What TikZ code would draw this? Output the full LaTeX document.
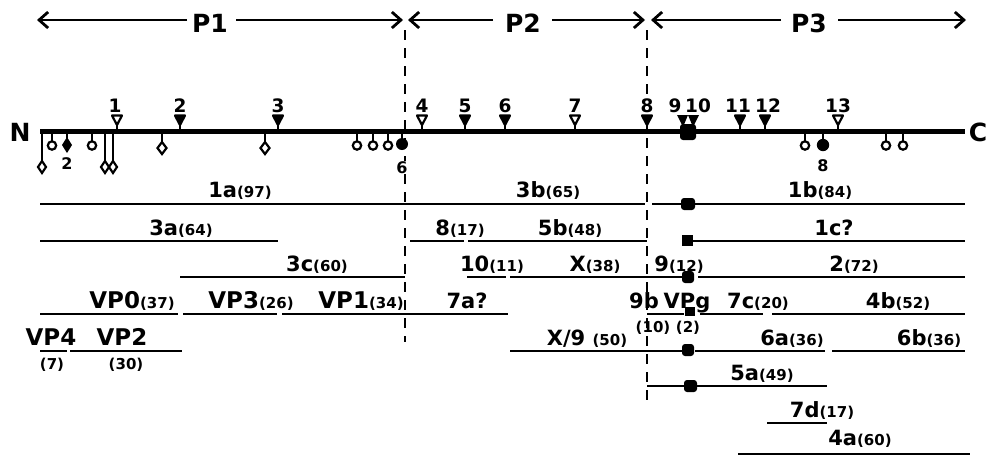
\documentclass[tikz,border=0pt]{standalone}
\usepackage{fontspec}
\setsansfont{DejaVu Sans}
\usetikzlibrary{arrows.meta}
\newcommand{\pr}[1]{{\fontsize{15}{15}\selectfont(#1)}}
\begin{document}
\begin{tikzpicture}[x=1pt,y=-1pt,
  lab/.style={font=\sffamily\bfseries\fontsize{21}{21}\selectfont,inner sep=0pt,anchor=base},
  vplab/.style={font=\sffamily\bfseries\fontsize{23}{23}\selectfont,inner sep=0pt,anchor=base},
  parlab/.style={font=\sffamily\bfseries\fontsize{15}{15}\selectfont,inner sep=0pt,anchor=base},
  numlab/.style={font=\sffamily\bfseries\fontsize{18.5}{18.5}\selectfont,inner sep=0.5pt,anchor=base,fill=white},
  smalllab/.style={font=\sffamily\bfseries\fontsize{16}{16}\selectfont,inner sep=0.5pt,anchor=base,fill=white},
  plab/.style={font=\sffamily\bfseries\fontsize{25}{25}\selectfont,inner sep=0pt},
  bar/.style={line width=2.9pt},
  axisline/.style={line width=5pt},
  divline/.style={line width=2.8pt,dash pattern=on 10pt off 8pt},
  toparr/.style={line width=2.8pt,-{Straight Barb[length=9pt,width=16pt]}},
  stem/.style={line width=2pt},
  openmark/.style={line width=2.2pt,fill=white},
  blob/.style={rounded corners=3pt},
]
\useasboundingbox (0,0) rectangle (988,456);

% dividing dashed lines
\draw[divline] (405,30) -- (405,342);
\draw[divline] (647,30) -- (647,404);

% top protein arrows
\node[plab] (p1) at (210,23) {P1};
\node[plab] (p2) at (523,23) {P2};
\node[plab] (p3) at (809,23) {P3};
\coordinate (p1l) at (37,20);  \coordinate (p1r) at (403,20);
\coordinate (p2l) at (408,20); \coordinate (p2r) at (645,20);
\coordinate (p3l) at (651,20); \coordinate (p3r) at (966,20);
\draw[toparr] (187,20) -- (p1l);
\draw[toparr] (236,20) -- (p1r);
\draw[toparr] (493,20) -- (p2l);
\draw[toparr] (552,20) -- (p2r);
\draw[toparr] (781,20) -- (p3l);
\draw[toparr] (838,20) -- (p3r);

% genome axis
\draw[axisline] (40,131) -- (965,131);
\node[plab] (N) at (20,132) {N};
\node[plab] (C) at (978,132) {C};

% cleavage markers above the axis
\foreach \x/\lx/\t/\fc in {117/115/1/white, 180/180/2/black, 278/278/3/black,
  422/422/4/white, 465/465/5/black, 505/505/6/black, 575/575/7/white,
  647/647/8/black, 740/738/11/black, 765/768/12/black, 838/838/13/white} {
  \draw[stem] (\x,124) -- (\x,131);
  \draw[line width=2.2pt, fill=\fc, line join=round] (\x-5,115.5) -- (\x+5,115.5) -- (\x,125) -- cycle;
  \node[numlab] at (\lx,112) {\t};
}
% combined marker 9/10
\fill (677,115) -- (688,115) -- (683,127) -- cycle;
\fill (688,115) -- (699,115) -- (693,127) -- cycle;
\fill[blob] (680,124) rectangle (696,140);
\node[numlab] (m9) at (675,112) {9};
\node[numlab] (m10) at (698,112) {10};

% markers below the axis
% long stems with open diamonds
\foreach \x in {42,105,113} {
  \draw[stem] (\x,131) -- (\x,161);
  \draw[openmark] (\x,161) -- (\x+4,167) -- (\x,173) -- (\x-4,167) -- cycle;
}
% short stems with open diamonds
\foreach \x in {162,265} {
  \draw[stem] (\x,131) -- (\x,142);
  \draw[openmark] (\x,142) -- (\x+4.5,148) -- (\x,154) -- (\x-4.5,148) -- cycle;
}
% open circles
\foreach \x in {52,92,357,373,388,805,886,903} {
  \draw[stem] (\x,131) -- (\x,141);
  \draw[openmark] (\x,145.5) circle[radius=4.2pt];
}
% filled diamond 2
\draw[stem] (67,131) -- (67,139);
\fill (67,137) -- (72,145) -- (67,153) -- (62,145) -- cycle;
\node[smalllab] (d2) at (67,169) {2};
% filled circles 6 and 8
\draw[stem] (402,131) -- (402,140);
\fill (402,144) circle[radius=6pt];
\node[smalllab] (d6) at (402,173) {6};
\draw[stem] (823,131) -- (823,140);
\fill (823,145) circle[radius=6.2pt];
\node[smalllab] (d8) at (823,171) {8};

% ---- row 1
\draw[bar] (40,204) -- (405,204);
\draw[bar] (405,204) -- (645,204);
\draw[bar] (652,204) -- (965,204);
\fill[blob] (681,198) rectangle (695,210);
\node[lab] (r1a) at (240,197) {1a\pr{97}};
\node[lab] (r3b) at (548,197) {3b\pr{65}};
\node[lab] (r1b) at (820,197) {1b\pr{84}};

% ---- row 2
\draw[bar] (40,241) -- (278,241);
\draw[bar] (410,241) -- (464,241);
\draw[bar] (468,241) -- (647,241);
\draw[bar] (688,241) -- (965,241);
\fill (682,235) rectangle (693,246);
\node[lab] (r3a) at (181,235) {3a\pr{64}};
\node[lab] (r8) at (460,235) {8\pr{17}};
\node[lab] (r5b) at (570,235) {5b\pr{48}};
\node[lab] (r1c) at (834,235) {1c?};

% ---- row 3
\draw[bar] (180,277) -- (405,277);
\draw[bar] (467,277) -- (506,277);
\draw[bar] (510,277) -- (688,277);
\draw[bar] (698,277) -- (965,277);
\fill[blob] (682,271) rectangle (694,283);
\node[lab] (r3c) at (317,271) {3c\pr{60}};
\node[lab] (r10) at (492,271) {10\pr{11}};
\node[lab] (rX) at (595,271) {X\pr{38}};
\node[lab] (r9) at (679,271) {9\pr{12}};
\node[lab] (r2) at (854,271) {2\pr{72}};

% ---- row 4
\draw[bar] (40,314) -- (178,314);
\draw[bar] (183,314) -- (277,314);
\draw[bar] (282,314) -- (405,314);
\draw[bar] (405,314) -- (508,314);
\draw[bar] (647,314) -- (684,314);
\fill (685,307) rectangle (695,316);
\draw[bar] (700,314) -- (763,314);
\draw[bar] (772,314) -- (965,314);
\node[vplab] (rVP0) at (132,308) {VP0\pr{37}};
\node[vplab] (rVP3) at (251,308) {VP3\pr{26}};
\node[vplab] (rVP1) at (361,308) {VP1\pr{34}};
\node[lab] (r7a) at (467,308) {7a?};
\node[lab] (r9b) at (644,308) {9b};
\node[lab] (rVPg) at (687,308) {VPg};
\node[lab] (r7c) at (758,308) {7c\pr{20}};
\node[lab] (r4b) at (898,308) {4b\pr{52}};
\node[parlab] (r9bn) at (653,332) {(10)};
\node[parlab] (rVPgn) at (688,332) {(2)};

% ---- row 5
\draw[bar] (40,351) -- (67,351);
\draw[bar] (70,351) -- (182,351);
\draw[bar] (510,351) -- (688,351);
\draw[bar] (695,351) -- (825,351);
\draw[bar] (832,351) -- (965,351);
\fill[blob] (682,344) rectangle (694,356);
\node[vplab] (rVP4) at (51,345) {VP4};
\node[vplab] (rVP2) at (122,345) {VP2};
\node[parlab] (rVP4n) at (52,369) {(7)};
\node[parlab] (rVP2n) at (126,369) {(30)};
\node[lab] (rX9) at (587,345) {X/9 \pr{50}};
\node[lab] (r6a) at (792,345) {6a\pr{36}};
\node[lab] (r6b) at (929,345) {6b\pr{36}};

% ---- row 6
\draw[bar] (647,386) -- (827,386);
\fill[blob] (684,380) rectangle (697,392);
\node[lab] (r5a) at (762,380) {5a\pr{49}};

% ---- row 7
\draw[bar] (767,423) -- (827,423);
\node[lab] (r7d) at (822,417) {7d\pr{17}};

% ---- row 8
\draw[bar] (738,454) -- (970,454);
\node[lab] (r4a) at (860,445) {4a\pr{60}};
\end{tikzpicture}
\end{document}
